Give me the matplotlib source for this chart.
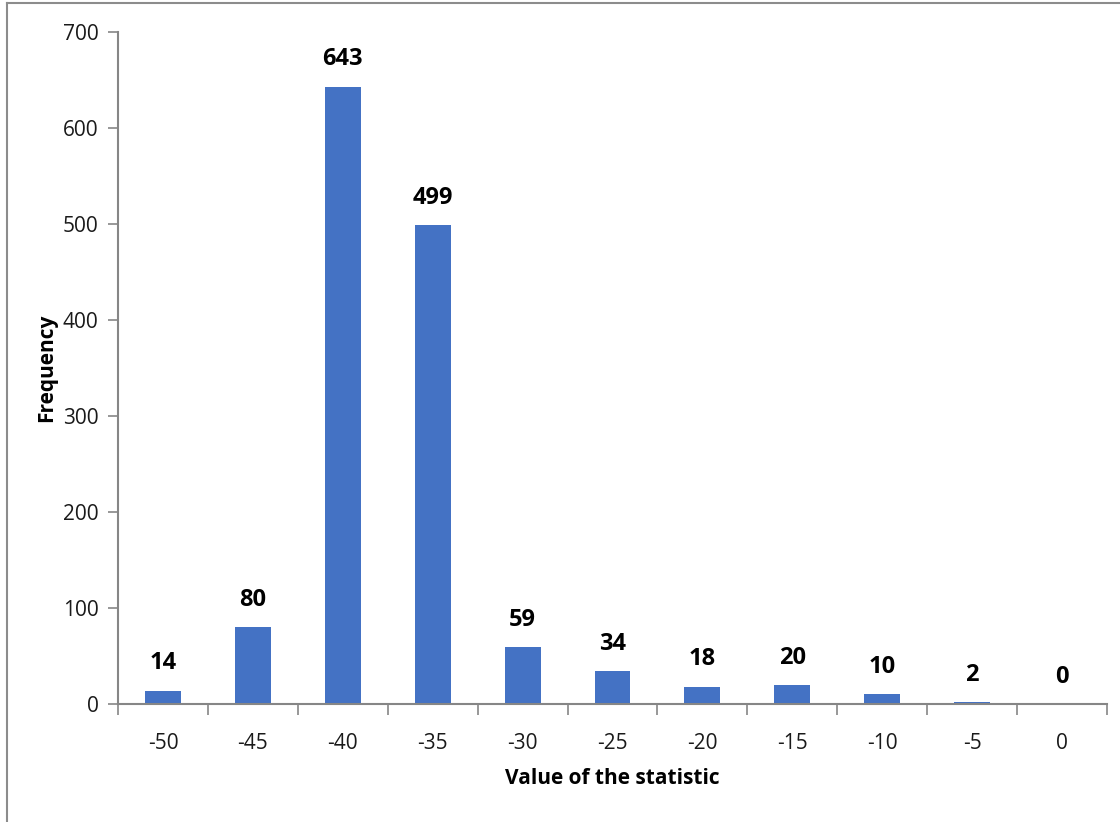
import numpy as np
from matplotlib import pyplot as plt
from matplotlib.lines import Line2D

valores = [-50, -45, -40, -35, -30, -25, -20, -15, -10, -5, 0]
frecuencias = [14, 80, 643, 499, 59, 34, 18, 20, 10, 2, 0]

plt.rcParams['font.family'] = ['Open Sans', 'DejaVu Sans']

fig = plt.figure(figsize=(11.2, 8.22), dpi=100)
ax = fig.add_axes([118/1120, 1 - 704/822, (1107 - 118)/1120, (704 - 32)/822])

# marco exterior del grafico
fig.add_artist(Line2D([7/1120, 7/1120], [0, 1 - 3/822], color='#8c8c8c', lw=1.5))
fig.add_artist(Line2D([7/1120, 1], [1 - 3/822, 1 - 3/822], color='#8c8c8c', lw=1.5))

x = np.arange(len(valores))
ax.bar(x, frecuencias, width=0.4, color='#4472C4')

for xi, f in zip(x, frecuencias):
    ax.annotate(str(f), (xi, f), xytext=(0, 11), textcoords='offset points',
                ha='center', va='bottom', fontsize=17, fontweight='bold', color='black')

ax.set_xlim(-0.5, len(valores) - 0.5)
ax.set_ylim(0, 700)
ax.set_yticks(range(0, 701, 100))
ax.set_xticks(x)
ax.set_xticklabels([str(v) for v in valores])
ax.set_xticks(np.arange(-0.5, len(valores), 1), minor=True)

for s in ('top', 'right'):
    ax.spines[s].set_visible(False)
for s in ('left', 'bottom'):
    ax.spines[s].set_color('#868686')
    ax.spines[s].set_linewidth(1.5)

ax.tick_params(axis='y', length=7, width=1.2, color='#868686', labelsize=15, pad=7, labelcolor='#1a1a1a')
ax.tick_params(axis='x', which='major', length=0, labelsize=15, pad=21, labelcolor='#1a1a1a')
ax.tick_params(axis='x', which='minor', length=8, width=1.2, color='#868686')

ax.set_xlabel('Value of the statistic', fontsize=15, fontweight='bold', labelpad=10)
ax.set_ylabel('Frequency', fontsize=15, fontweight='bold')
ax.yaxis.set_label_coords(-0.062, 0.5)

fig.savefig('out.png', dpi=100)
